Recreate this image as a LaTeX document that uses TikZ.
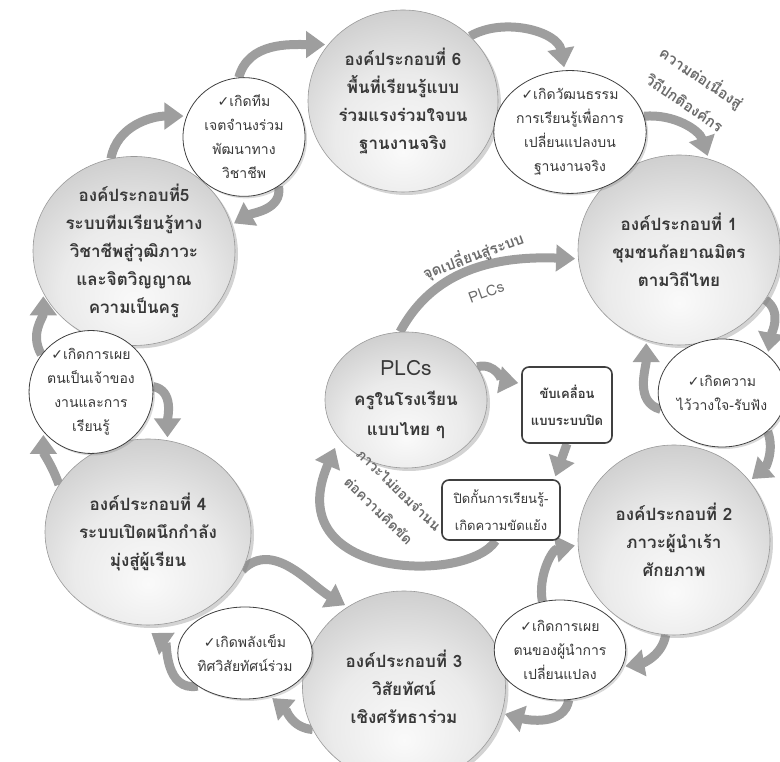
\documentclass[tikz,border=0pt]{standalone}
\usepackage{fontspec}
\newfontfamily\thai[Script=Thai]{Loma}
\newfontfamily\dv{DejaVu Sans}
\usetikzlibrary{shapes.geometric,arrows.meta,shadows,backgrounds}
\definecolor{arr}{HTML}{9E9E9E}
\definecolor{txt}{HTML}{383838}
\definecolor{lbl}{HTML}{6A6A6A}
\newcommand{\ck}{{\dv ✓}}
\pgfdeclareradialshading{sphere}{\pgfpoint{0bp}{-14bp}}{%
  color(0bp)=(gray!4); color(18bp)=(gray!16); color(34bp)=(gray!40);
  color(52bp)=(gray!66); color(70bp)=(gray!72)}
\tikzset{
  big/.style={ellipse, draw=gray!80, line width=0.6pt, shading=sphere,
    drop shadow={shadow xshift=3pt, shadow yshift=-3pt, opacity=0.35, fill=gray},
    align=center, inner sep=0pt, text=txt, font=\thai\bfseries\fontsize{17}{28}\selectfont},
  small/.style={ellipse, draw=black!75, line width=0.8pt, fill=white,
    drop shadow={shadow xshift=2pt, shadow yshift=-2pt, opacity=0.3, fill=gray},
    align=center, inner sep=0pt, text=txt, font=\thai\fontsize{14}{24}\selectfont},
  pbox/.style={rectangle, rounded corners=7pt, draw=black!75, line width=1.6pt, fill=white,
    align=center, inner sep=0pt, text=txt},
  lbltext/.style={text=lbl, inner sep=0pt, align=center},
  flow/.style={draw=arr, line width=9pt, -{Triangle[length=19pt,width=26pt]}, shorten >=3pt}
}
\begin{document}
\begin{tikzpicture}[x=1pt,y=1pt]
\useasboundingbox (0,0) rectangle (780,762);
\clip (0,0) rectangle (780,762);

% big circles
\node[big, minimum width=190pt, minimum height=182pt] (c6) at (403,661)
  {องค์ประกอบที่ 6\\พื้นที่เรียนรู้แบบ\\ร่วมแรงร่วมใจบน\\ฐานงานจริง};
\node[big, minimum width=202pt, minimum height=190pt] (c1) at (679,512)
  {องค์ประกอบที่ 1\\ชุมชนกัลยาณมิตร\\ตามวิถีไทย};
\node[big, minimum width=202pt, minimum height=188pt] (c5) at (134,511)
  {องค์ประกอบที่5\\ระบบทีมเรียนรู้ทาง\\วิชาชีพสู่วุฒิภาวะ\\และจิตวิญญาณ\\ความเป็นครู};
\node[big, minimum width=206pt, minimum height=186pt] (c4) at (148,230)
  {องค์ประกอบที่ 4\\ระบบเปิดผนึกกำลัง\\มุ่งสู่ผู้เรียน};
\node[big, minimum width=203pt, minimum height=192pt] (c3) at (404,75)
  {องค์ประกอบที่ 3\\วิสัยทัศน์\\เชิงศรัทธาร่วม};
\node[big, minimum width=192pt, minimum height=190pt] (c2) at (674,222)
  {องค์ประกอบที่ 2\\ภาวะผู้นำเร้า\\ศักยภาพ};
\node[big, minimum width=162pt, minimum height=136pt, font=\thai\bfseries\fontsize{17}{30}\selectfont] (plc) at (406,362)
  {{\mdseries\fontsize{21}{30}\selectfont PLCs}\\ครูในโรงเรียน\\แบบไทย ๆ};

% small circles
\node[small, minimum width=122pt, minimum height=110pt] (s65) at (244,625)
  {\ck เกิดทีม\\เจตจำนงร่วม\\พัฒนาทาง\\วิชาชีพ};
\node[small, minimum width=126pt, minimum height=116pt] (s61) at (570,630)
  {\ck เกิดวัฒนธรรม\\การเรียนรู้เพื่อการ\\เปลี่ยนแปลงบน\\ฐานงานจริง};
\node[small, minimum width=120pt, minimum height=108pt] (s12) at (722,369)
  {\ck เกิดความ\\ไว้วางใจ-รับฟัง};
\node[small, minimum width=106pt, minimum height=100pt] (s23) at (560,112)
  {\ck เกิดการเผย\\ตนของผู้นำการ\\เปลี่ยนแปลง};
\node[small, minimum width=130pt, minimum height=92pt] (s34) at (245,109)
  {\ck เกิดพลังเข็ม\\ทิศวิสัยทัศน์ร่วม};
\node[small, minimum width=122pt, minimum height=106pt] (s45) at (91,370)
  {\ck เกิดการเผย\\ตนเป็นเจ้าของ\\งานและการ\\เรียนรู้};

% boxes
\node[pbox, minimum width=90pt, minimum height=76pt, font=\thai\bfseries\fontsize{13}{27}\selectfont] (b1) at (567,357)
  {ขับเคลื่อน\\แบบระบบปิด};
\node[pbox, minimum width=118pt, minimum height=60pt, font=\thai\fontsize{13}{27}\selectfont] (b2) at (501,252)
  {ปิดกั้นการเรียนรู้-\\เกิดความขัดแย้ง};

% labels
\node[lbltext, rotate=-34, font=\thai\bfseries\fontsize{15}{30}\selectfont] (l1) at (694,673) {ความต่อเนื่องสู่\\วิถีปกติองค์กร};
\node[lbltext, rotate=20, font=\thai\bfseries\fontsize{15}{38}\selectfont] (l2) at (479,490) {จุดเปลี่ยนสู่ระบบ\\{\mdseries PLCs}};
\node[lbltext, rotate=-44, font=\thai\bfseries\fontsize{14}{29}\selectfont] (l3) at (389,262) {ภาวะไม่ยอมจำนน\\ต่อความคิดขัด};

% arrows
\begin{pgfonlayer}{background}
\draw[flow] (c6.44) to[out=30, in=100] (s61.95);
\draw[flow] (s61.12) to[out=5, in=108] (c1.72);
\draw[flow] (c1.-30) to[out=-35, in=80] (s12.40);
\draw[flow] (s12.-40) to[out=-70, in=40] (c2.38);
\draw[flow] (s12.195) to[out=165, in=-90] (c1.250);
\draw[flow] (s23.110) to[out=100, in=190] (c2.183);
\draw[flow] (c2.-95) to[out=-100, in=10] (s23.-15);
\draw[flow] (s23.-80) to[out=-100, in=-15] (c3.-15);
\draw[flow] (c4.-22) to[out=45, in=150] (c3.125);
\draw[flow] (c3.205) to[out=175, in=-40] (s34.-60);
\draw[flow, shorten >=14pt] (s34.215) to[out=190, in=-35] (c4.-95);
\draw[flow] (c4.152) to[out=110, in=-90] (s45.220);
\draw[flow] (s45.5) to[out=-10, in=90] (c4.78);
\draw[flow] (s45.143) to[out=120, in=-90] (c5.205);
\draw[flow] (c5.104) to[out=80, in=180] (s65.160);
\draw[flow] (s65.-55) to[out=-80, in=30] (c5.15);
\draw[flow] (s65.95) to[out=75, in=180] (c6.143);
\draw[flow] (plc.95) to[out=62, in=178] (c1.185);
\draw[flow] (plc.25) to[out=15, in=170] (b1.155);
\draw[flow] (b1.south) -- (b2.30);
\draw[flow, shorten >=10pt] (b2.-100) .. controls (468,178) and (278,182) .. (plc.210);
\end{pgfonlayer}
\end{tikzpicture}
\end{document}
